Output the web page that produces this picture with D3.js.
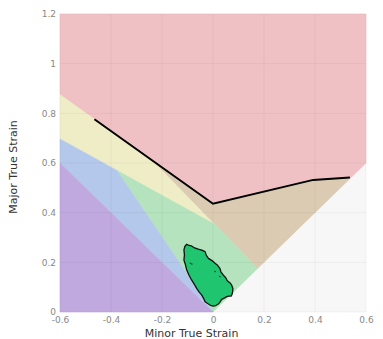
<!DOCTYPE html>
<html>
<head>
<meta charset="utf-8">
<script src="https://cdn.jsdelivr.net/npm/d3@7"></script>
<style>
  body { margin: 0; background: #fff; }
  svg { display: block; }
</style>
</head>
<body>
<script>
// forming limit diagram, values are [minor strain, major strain]
var xTicks = [-0.6, -0.4, -0.2, 0, 0.2, 0.4, 0.6];
var yTicks = [0, 0.2, 0.4, 0.6, 0.8, 1, 1.2];

var crackZone = [[-0.6, 1.2], [0.6, 1.2], [0.6, 0.6], [0.54, 0.54], [0.393, 0.532], [0, 0.436], [-0.6, 0.875]];
var marginZone = [[-0.6, 0.875], [-0.231, 0.605], [0.008, 0.352], [-0.378, 0.571], [-0.6, 0.697]];
var biaxZone = [[-0.231, 0.605], [0, 0.436], [0.393, 0.532], [0.54, 0.54], [0.175, 0.175], [0.008, 0.352]];
var safeZone = [[-0.378, 0.571], [0.008, 0.352], [0.175, 0.175], [0, 0]];
var thinZone = [[-0.6, 0.6], [-0.6, 0.697], [-0.378, 0.571], [0, 0]];
var wrinkleZone = [[-0.6, 0], [-0.6, 0.6], [0, 0]];

var flc = [[-0.465, 0.776], [0, 0.436], [0.393, 0.532], [0.537, 0.542]];

var strainCloud = [[-0.103, 0.273], [-0.094, 0.268], [-0.084, 0.266], [-0.072, 0.258], [-0.058, 0.253],
  [-0.044, 0.249], [-0.031, 0.243], [-0.026, 0.228], [-0.018, 0.216], [-0.004, 0.207], [0.008, 0.196],
  [0.018, 0.188], [0.027, 0.176], [0.031, 0.162], [0.040, 0.149], [0.050, 0.138], [0.056, 0.126],
  [0.066, 0.118], [0.073, 0.109], [0.078, 0.095], [0.077, 0.082], [0.075, 0.072], [0.071, 0.064],
  [0.062, 0.064], [0.054, 0.062], [0.044, 0.056], [0.034, 0.051], [0.028, 0.041], [0.021, 0.032],
  [0.011, 0.026], [0.001, 0.024], [-0.010, 0.027], [-0.018, 0.032], [-0.024, 0.036], [-0.031, 0.041],
  [-0.037, 0.055], [-0.044, 0.068], [-0.054, 0.080], [-0.064, 0.095], [-0.073, 0.111], [-0.084, 0.129],
  [-0.094, 0.148], [-0.103, 0.169], [-0.108, 0.190], [-0.114, 0.209], [-0.112, 0.230], [-0.114, 0.250],
  [-0.110, 0.265]];
var innerPoints = [[-0.089, 0.197], [-0.083, 0.193], [0.008, 0.163], [0.027, 0.143]];

var width = 383, height = 339;
var margin = {top: 14, right: 17, bottom: 27, left: 60};

var svg = d3.select('body').append('svg').attr('width', width).attr('height', height);

var x = d3.scaleLinear().domain([-0.6, 0.6]).range([margin.left, width - margin.right]);
var y = d3.scaleLinear().domain([0, 1.2]).range([height - margin.bottom, margin.top]);

var line = d3.line().x(function (d) { return x(d[0]); }).y(function (d) { return y(d[1]); });

// plot background (the area below the equibiaxial line)
svg.append('rect')
  .attr('x', x(-0.6)).attr('y', y(1.2))
  .attr('width', x(0.6) - x(-0.6)).attr('height', y(0) - y(1.2))
  .attr('fill', '#f7f7f7');

var zones = [
  {pts: crackZone, color: '#efc1c5'},
  {pts: marginZone, color: '#efedc6'},
  {pts: biaxZone, color: '#dccbb3'},
  {pts: safeZone, color: '#b4e3bd'},
  {pts: thinZone, color: '#b3c8eb'},
  {pts: wrinkleZone, color: '#c0a9de'}
];

svg.append('g').selectAll('path')
  .data(zones)
  .enter().append('path')
  .attr('d', function (d) { return line(d.pts) + 'Z'; })
  .attr('fill', function (d) { return d.color; })
  .attr('stroke', function (d) { return d.color; })
  .attr('stroke-width', 0.5);

// grid
var grid = svg.append('g').attr('stroke', '#000').attr('stroke-opacity', 0.045);
grid.selectAll('.vx').data(xTicks).enter().append('line')
  .attr('x1', function (d) { return x(d); }).attr('x2', function (d) { return x(d); })
  .attr('y1', y(0)).attr('y2', y(1.2));
grid.selectAll('.hy').data(yTicks).enter().append('line')
  .attr('x1', x(-0.6)).attr('x2', x(0.6))
  .attr('y1', function (d) { return y(d); }).attr('y2', function (d) { return y(d); });

// measured strain points
svg.append('path')
  .attr('d', line(strainCloud) + 'Z')
  .attr('fill', '#1fc56f')
  .attr('stroke', '#111')
  .attr('stroke-width', 1.3)
  .attr('stroke-linejoin', 'round');

svg.append('g').selectAll('circle')
  .data(innerPoints)
  .enter().append('circle')
  .attr('cx', function (d) { return x(d[0]); })
  .attr('cy', function (d) { return y(d[1]); })
  .attr('r', 0.7)
  .attr('fill', '#222');

// forming limit curve
svg.append('path')
  .attr('d', line(flc))
  .attr('fill', 'none')
  .attr('stroke', '#000')
  .attr('stroke-width', 2);

var fmt = function (d) { return String(+d.toFixed(1)); };

var xAxis = svg.append('g')
  .attr('transform', 'translate(0,' + y(0) + ')')
  .call(d3.axisBottom(x).tickValues(xTicks).tickSize(0).tickPadding(5).tickFormat(fmt));
var yAxis = svg.append('g')
  .attr('transform', 'translate(' + x(-0.6) + ',0)')
  .call(d3.axisLeft(y).tickValues(yTicks).tickSize(0).tickPadding(4).tickFormat(fmt));

[xAxis, yAxis].forEach(function (a) {
  a.select('.domain').remove();
  a.selectAll('text')
    .attr('fill', '#888')
    .attr('font-family', 'DejaVu Sans, sans-serif')
    .attr('font-size', 9);
});

svg.append('text')
  .attr('x', width / 2)
  .attr('y', 337)
  .attr('text-anchor', 'middle')
  .attr('fill', '#333')
  .attr('font-family', 'DejaVu Sans, sans-serif')
  .attr('font-size', 11)
  .text('Minor True Strain');

svg.append('text')
  .attr('transform', 'translate(17,167) rotate(-90)')
  .attr('text-anchor', 'middle')
  .attr('fill', '#333')
  .attr('font-family', 'DejaVu Sans, sans-serif')
  .attr('font-size', 11)
  .text('Major True Strain');
</script>
</body>
</html>
